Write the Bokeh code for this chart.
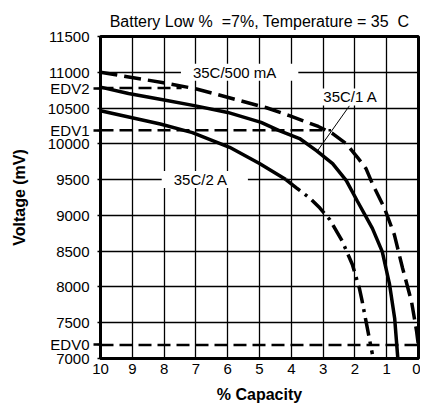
from bokeh.plotting import figure
from bokeh.models import Range1d, FixedTicker, Label, ColumnDataSource
from bokeh.embed import file_html
from bokeh.resources import INLINE

# ---------------- data ----------------
capacity_ticks = [10, 9, 8, 7, 6, 5, 4, 3, 2, 1, 0]
voltage_ticks = [7000, 7500, 8000, 8500, 9000, 9500, 10000, 10500, 11000, 11500]

edv_names = ["EDV0", "EDV1", "EDV2"]
edv_levels = [7190, 10190, 10780]
edv_end_capacity = [0.0, 2.75, 7.45]

cap_500mA = [10, 8.02, 6.98, 5.63, 4.78, 4.06, 3.15, 2.70, 2.27, 1.92, 1.65, 1.45, 1.07, 0.76, 0.50, 0.22, 0.06, 0.0]
volt_500mA = [11000, 10854, 10767, 10606, 10504, 10393, 10243, 10143, 10000, 9812, 9654, 9443, 9102, 8731, 8261, 7797, 7381, 7170]

cap_1A = [10, 9.12, 8.04, 7.05, 6.0, 4.95, 4.38, 3.74, 3.21, 2.70, 2.27, 1.92, 1.45, 1.14, 0.91, 0.75, 0.65]
volt_1A = [10792, 10704, 10617, 10534, 10439, 10300, 10185, 10074, 9906, 9724, 9486, 9198, 8819, 8493, 8035, 7564, 7000]

cap_2A_solid = [10, 8.12, 7.11, 5.94, 5.0, 4.17]
volt_2A_solid = [10462, 10278, 10157, 9952, 9724, 9500]
cap_2A_dashdot = [4.17, 3.84, 3.42, 3.10, 2.79, 2.39, 2.08, 1.86, 1.77, 1.65, 1.45]
volt_2A_dashdot = [9500, 9385, 9241, 9102, 8941, 8633, 8313, 7983, 7797, 7518, 7060]

title_text = "Battery Low %\u00a0 =7%, Temperature = 35\u00a0 C"
x_label = "% Capacity"
y_label = "Voltage (mV)"

FONT = "Liberation Sans"

# ---------------- figure ----------------
p = figure(frame_width=318, frame_height=322,
           x_range=Range1d(10, 0), y_range=Range1d(7000, 11500),
           output_backend="svg", toolbar_location=None,
           min_border_left=100, min_border_right=2, min_border_top=36, min_border_bottom=0)

p.title.text = title_text
p.title.align = "center"
p.title.text_font = FONT
p.title.text_font_size = "16px"
p.title.text_font_style = "normal"
p.title.text_color = "black"
p.title.standoff = 14

p.outline_line_color = "black"
p.outline_line_width = 3
p.outline_line_alpha = 1.0
p.background_fill_color = "white"
p.border_fill_color = "white"

xt = FixedTicker(ticks=capacity_ticks)
# y axis: numeric ticks plus EDV levels (labelled by name, longer minor tick marks)
yt_axis = FixedTicker(ticks=sorted(voltage_ticks + edv_levels), minor_ticks=edv_levels)
yt_grid = FixedTicker(ticks=voltage_ticks)

p.xaxis.ticker = xt
p.yaxis.ticker = yt_axis
p.xgrid.ticker = xt
p.ygrid.ticker = yt_grid
p.yaxis.major_label_overrides = {lvl: name for lvl, name in zip(edv_levels, edv_names)}

for g in (p.xgrid, p.ygrid):
    g.grid_line_color = "black"
    g.grid_line_width = 1.3
    g.grid_line_alpha = 1.0

for ax in (p.xaxis, p.yaxis):
    ax.axis_line_color = "black"
    ax.axis_line_width = 3
    ax.major_label_text_font = FONT
    ax.major_label_text_font_size = "15px"
    ax.major_label_text_color = "black"
    ax.axis_label_text_font = FONT
    ax.axis_label_text_font_size = "16px"
    ax.axis_label_text_font_style = "bold"
    ax.axis_label_text_color = "black"

p.xaxis.axis_label = x_label
p.xaxis.major_tick_out = 0
p.xaxis.major_tick_in = 0
p.xaxis.minor_tick_out = 0
p.xaxis.minor_tick_in = 0
p.xaxis.major_label_standoff = 5
p.xaxis.axis_label_standoff = 9

p.yaxis.axis_label = y_label
p.yaxis.major_tick_out = 3
p.yaxis.major_tick_in = 0
p.yaxis.major_tick_line_width = 1.5
p.yaxis.major_tick_line_color = "black"
p.yaxis.minor_tick_out = 7
p.yaxis.minor_tick_in = 0
p.yaxis.minor_tick_line_width = 2.5
p.yaxis.minor_tick_line_color = "black"
p.yaxis.major_label_standoff = 4
p.yaxis.axis_label_standoff = 17

# EDV dashed levels
edv_src = ColumnDataSource(dict(
    x0=[capacity_ticks[0]] * len(edv_levels), x1=edv_end_capacity,
    y=edv_levels))
p.segment(x0="x0", y0="y", x1="x1", y1="y", source=edv_src,
          line_color="black", line_width=2.5, line_dash="13 6")

# curves
p.line(cap_500mA, volt_500mA, line_color="black", line_width=3.5, line_dash="17 7")
p.line(cap_1A, volt_1A, line_color="black", line_width=3.5)
p.line(cap_2A_solid, volt_2A_solid, line_color="black", line_width=3.5)
p.line(cap_2A_dashdot, volt_2A_dashdot, line_color="black", line_width=3.5,
       line_dash="18 6 3 6")

# leader line for 1 A label
p.line([2.17, 3.17], [10533, 9906], line_color="black", line_width=1)

# curve labels
def curve_label(x, y, text, pad):
    lab = Label(x=x, y=y, text=text, text_align="center", text_baseline="middle",
                text_font=FONT, text_font_size="15px", text_color="black",
                background_fill_color="white", background_fill_alpha=1.0,
                padding=pad)
    p.add_layout(lab)

curve_label(5.625, 11000, "35C/500 mA", dict(left=12, right=22, top=0, bottom=0))
curve_label(2.14, 10655, "35C/1 A", dict(left=2, right=2, top=0, bottom=0))
curve_label(6.72, 9500, "35C/2 A", dict(left=12, right=20, top=0, bottom=0))

open("out.html", "w").write(file_html(p, INLINE))
